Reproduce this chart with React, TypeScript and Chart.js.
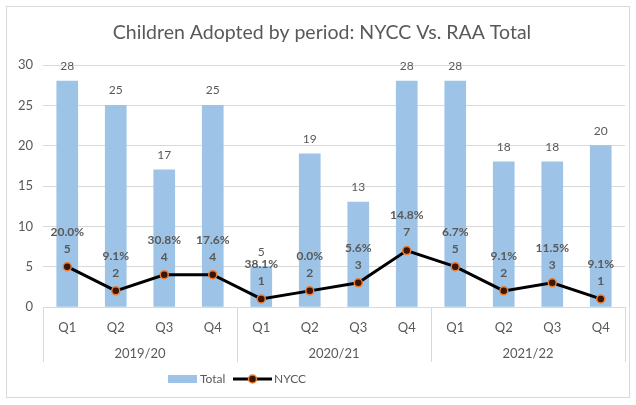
import React, { useEffect, useRef } from "react";
import { Chart, registerables } from "chart.js";

Chart.register(...registerables);

const quarters = ["Q1", "Q2", "Q3", "Q4", "Q1", "Q2", "Q3", "Q4", "Q1", "Q2", "Q3", "Q4"];
const years = ["2019/20", "2020/21", "2021/22"];
const totalValues = [28, 25, 17, 25, 5, 19, 13, 28, 28, 18, 18, 20];
const nyccValues = [5, 2, 4, 4, 1, 2, 3, 7, 5, 2, 3, 1];
const nyccPercents = ["20.0%", "9.1%", "30.8%", "17.6%", "38.1%", "0.0%", "5.6%", "14.8%", "6.7%", "9.1%", "11.5%", "9.1%"];
const titleText = "Children Adopted by period: NYCC Vs. RAA Total";

const FONT = "Lato, 'Liberation Sans', sans-serif";
const GREY = "#595959";
const BAR = "#9dc3e6";

const decorPlugin = {
  id: "decor",
  beforeDraw(chart: any) {
    const ctx = chart.ctx;
    ctx.save();
    ctx.fillStyle = "#ffffff";
    ctx.fillRect(0, 0, chart.width, chart.height);
    ctx.strokeStyle = "#d9d9d9";
    ctx.lineWidth = 1;
    ctx.strokeRect(6.5, 6.5, 623, 391);
    ctx.fillStyle = GREY;
    ctx.font = `19.5px ${FONT}`;
    ctx.textAlign = "center";
    ctx.textBaseline = "middle";
    ctx.fillText(titleText, 322, 33);
    ctx.restore();
  },
  afterDraw(chart: any) {
    const ctx = chart.ctx;
    const area = chart.chartArea;
    ctx.save();
    // group separators
    ctx.strokeStyle = "#d9d9d9";
    ctx.lineWidth = 1;
    const step = (area.right - area.left) / quarters.length;
    for (let g = 0; g <= years.length; g++) {
      const x = Math.round(area.left + g * 4 * step) + 0.5;
      ctx.beginPath();
      ctx.moveTo(x, area.bottom);
      ctx.lineTo(x, 362);
      ctx.stroke();
    }
    ctx.fillStyle = GREY;
    ctx.font = `13px ${FONT}`;
    ctx.textAlign = "center";
    ctx.textBaseline = "middle";
    years.forEach((y, g) => {
      const x = area.left + (g * 4 + 2) * step;
      ctx.fillText(y, x, 354);
    });
    // data labels: bars
    const barMeta = chart.getDatasetMeta(0);
    ctx.font = `12px ${FONT}`;
    barMeta.data.forEach((el: any, i: number) => {
      ctx.fillText(String(totalValues[i]), el.x, el.y - 15);
    });
    // data labels: line
    const lineMeta = chart.getDatasetMeta(1);
    ctx.font = `bold 12px ${FONT}`;
    lineMeta.data.forEach((el: any, i: number) => {
      ctx.fillText(String(nyccValues[i]), el.x, el.y - 18);
      ctx.fillText(nyccPercents[i], el.x, el.y - 35);
    });
    // legend
    const ly = 379;
    ctx.fillStyle = BAR;
    ctx.fillRect(168, ly - 4, 29, 8);
    ctx.fillStyle = GREY;
    ctx.font = `12px ${FONT}`;
    ctx.textAlign = "left";
    ctx.fillText("Total", 200, ly);
    ctx.strokeStyle = "#000000";
    ctx.lineWidth = 3;
    ctx.beginPath();
    ctx.moveTo(233, ly);
    ctx.lineTo(272, ly);
    ctx.stroke();
    ctx.beginPath();
    ctx.arc(252.5, ly, 4, 0, Math.PI * 2);
    ctx.fillStyle = "#3b1505";
    ctx.fill();
    ctx.lineWidth = 1.5;
    ctx.strokeStyle = "#ed7d31";
    ctx.stroke();
    ctx.fillStyle = GREY;
    ctx.fillText("NYCC", 274, ly);
    ctx.restore();
  },
};

export default function App() {
  const ref = useRef<HTMLCanvasElement>(null);
  useEffect(() => {
    document.body.style.margin = "0";
    const chart = new Chart(ref.current as HTMLCanvasElement, {
      type: "bar",
      data: {
        labels: quarters,
        datasets: [
          {
            type: "bar",
            label: "Total",
            data: totalValues,
            backgroundColor: BAR,
            barThickness: 21,
            order: 2,
          } as any,
          {
            type: "line",
            label: "NYCC",
            data: nyccValues,
            borderColor: "#000000",
            borderWidth: 3,
            pointRadius: 4,
            pointBackgroundColor: "#3b1505",
            pointBorderColor: "#ed7d31",
            pointBorderWidth: 1.5,
            tension: 0,
            order: 1,
          } as any,
        ],
      },
      options: {
        responsive: false,
        animation: false,
        layout: { padding: { top: 65, right: 11, bottom: 28, left: 0 } },
        plugins: {
          legend: { display: false },
          title: { display: false },
          tooltip: { enabled: false },
        },
        scales: {
          x: {
            grid: { display: false, drawTicks: false },
            border: { display: true, color: "#d9d9d9" },
            ticks: { color: GREY, font: { family: FONT, size: 13 }, padding: 13, maxRotation: 0 },
            afterFit(scale: any) {
              scale.height = 70;
            },
          },
          y: {
            min: 0,
            max: 30,
            ticks: { stepSize: 5, color: GREY, font: { family: FONT, size: 13 }, padding: 10 },
            grid: { color: "#d9d9d9", drawTicks: false },
            border: { display: false },
            afterFit(scale: any) {
              scale.width = 43;
            },
          },
        },
      },
      plugins: [decorPlugin],
    });
    return () => chart.destroy();
  }, []);
  return <canvas ref={ref} width={636} height={405} style={{ display: "block" }} />;
}
